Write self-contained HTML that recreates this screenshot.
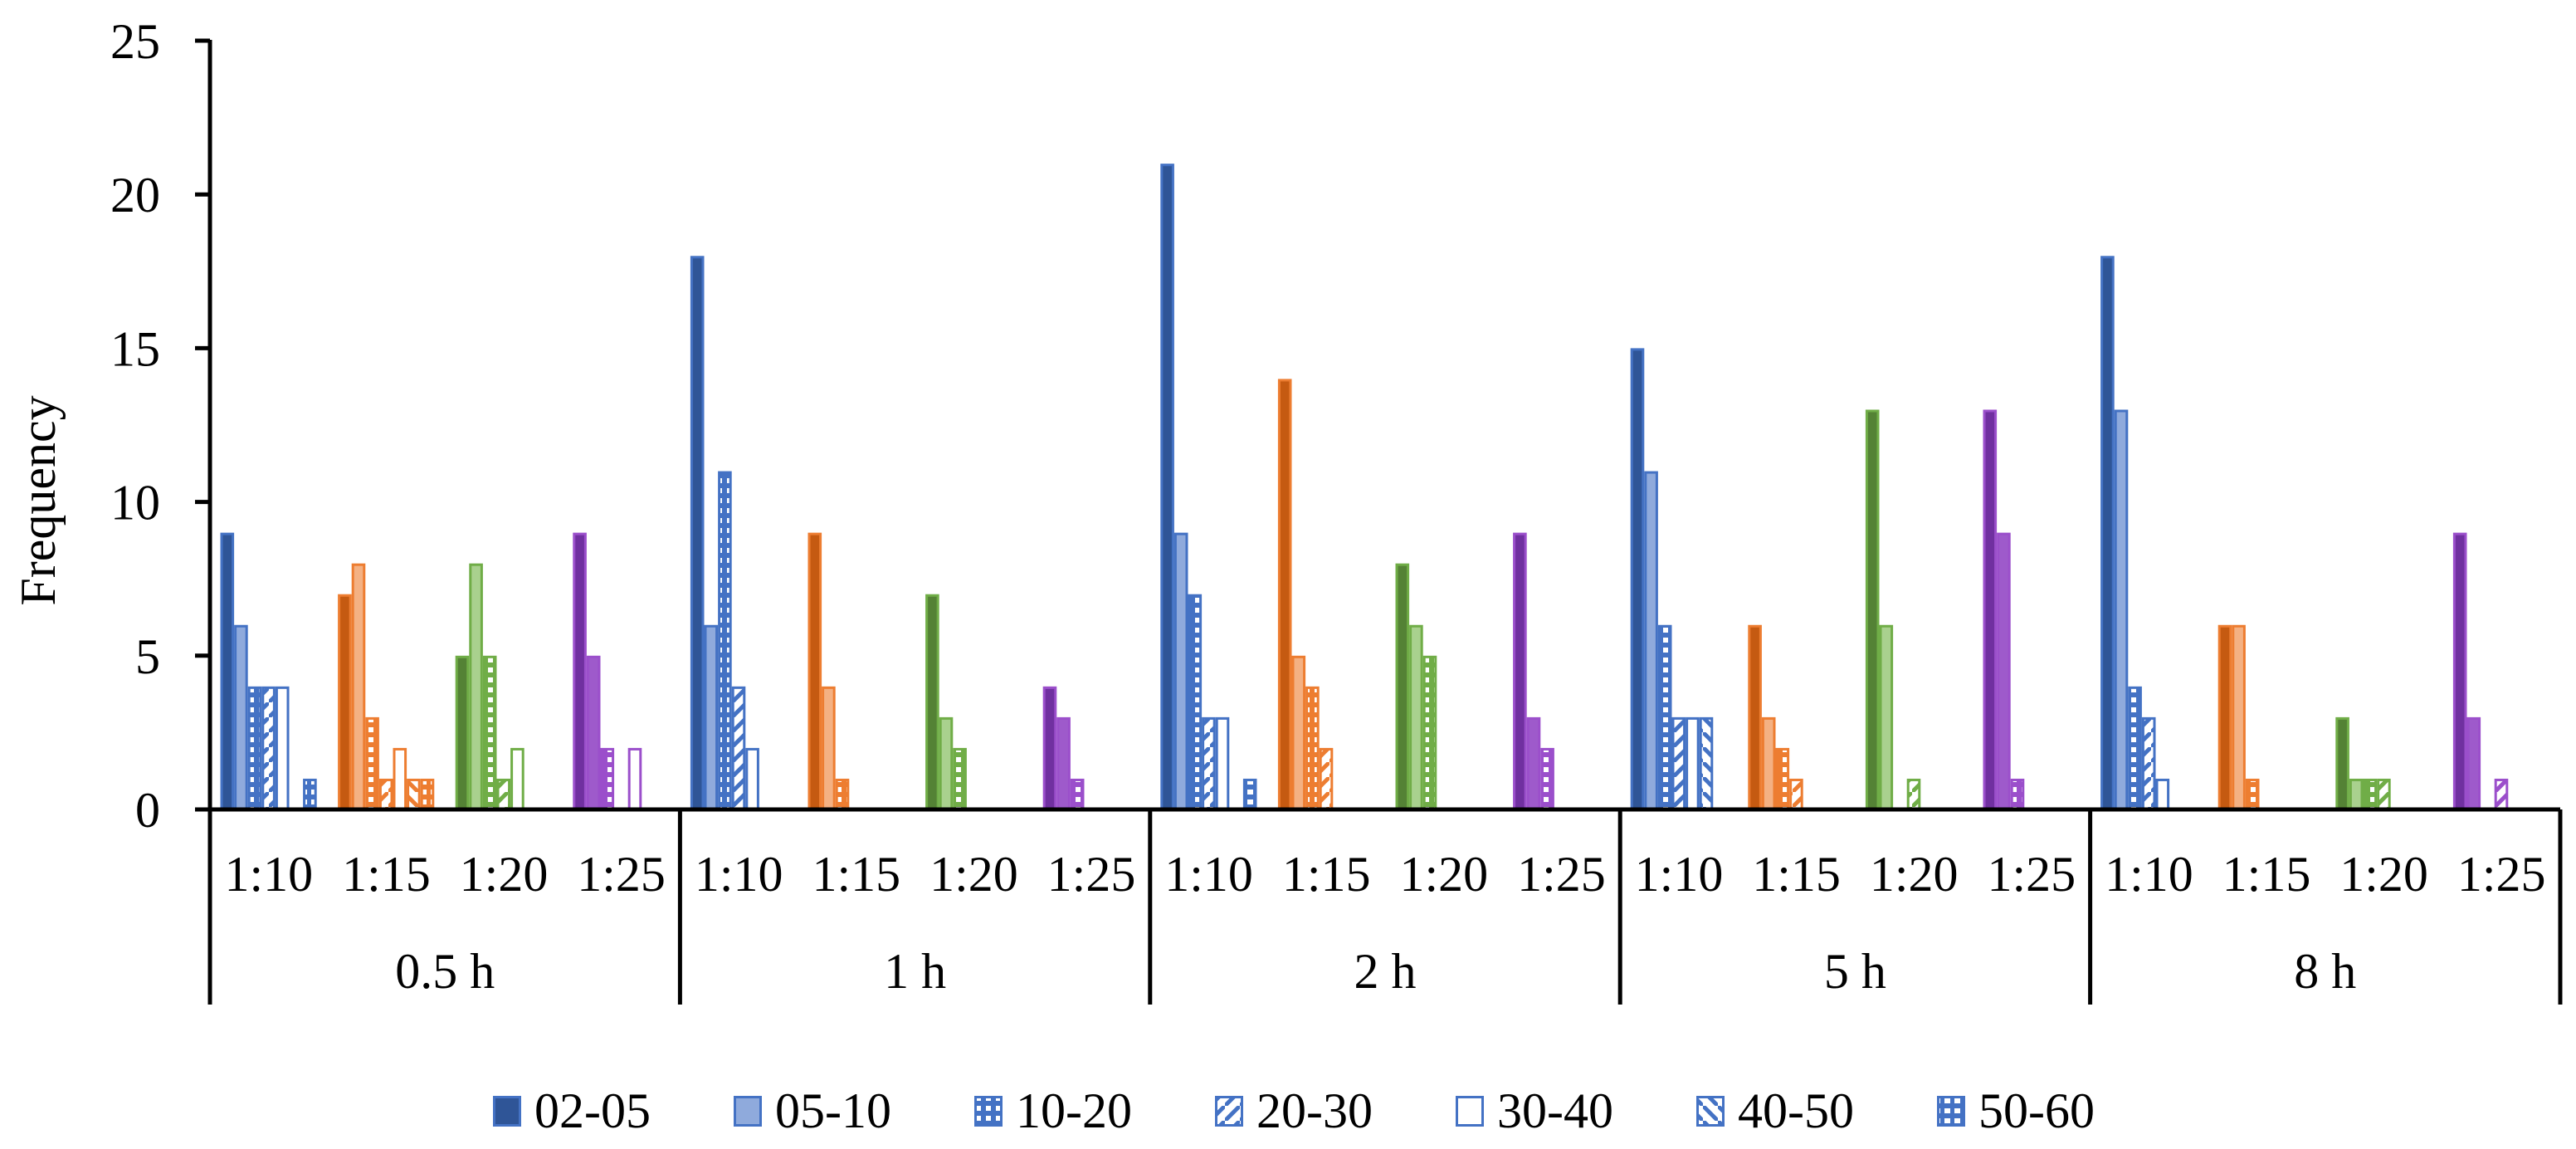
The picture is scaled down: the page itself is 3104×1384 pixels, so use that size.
<!DOCTYPE html>
<html><head><meta charset="utf-8"><style>
body{margin:0;background:#fff}
svg{display:block;font-family:"Liberation Serif",serif}
</style></head><body>
<svg id="chart" width="3104" height="1384" viewBox="0 0 3104 1384" xmlns="http://www.w3.org/2000/svg">
<defs id="defs"></defs>
<g id="bars"></g>
<g id="axes"></g>
<g id="legend"></g>
<text x="0" y="0" font-size="60" text-anchor="middle" transform="translate(66,603) rotate(-90)">Frequency</text>
</svg>
<script>
const bins = ["02-05","05-10","10-20","20-30","30-40","40-50","50-60"];
const ratios = ["1:10","1:15","1:20","1:25"];
const times = ["0.5 h","1 h","2 h","5 h","8 h"];
const yTicks = [0,5,10,15,20,25];
// values[time][ratio] = counts for the 7 bins
const v05 = [[9,6,4,4,4,0,1],[7,8,3,1,2,1,1],[5,8,5,1,2,0,0],[9,5,2,0,2,0,0]];
const v1  = [[18,6,11,4,2,0,0],[9,4,1,0,0,0,0],[7,3,2,0,0,0,0],[4,3,1,0,0,0,0]];
const v2  = [[21,9,7,3,3,0,1],[14,5,4,2,0,0,0],[8,6,5,0,0,0,0],[9,3,2,0,0,0,0]];
const v5  = [[15,11,6,3,3,3,0],[6,3,2,1,0,0,0],[13,6,0,1,0,0,0],[13,9,1,0,0,0,0]];
const v8  = [[18,13,4,3,1,0,0],[6,6,1,0,0,0,0],[3,1,1,1,0,0,0],[9,3,0,1,0,0,0]];
const values = [v05,v1,v2,v5,v8];

const NS="http://www.w3.org/2000/svg";
const X0=253, CW=141.6, Y0=975, Y25=49, BW=16.6, PAD=12.5;
const y = val => Y0 - (Y0-Y25)*val/25;
const catX = (t,r) => X0 + (t*4+r)*CW;
const barX = (t,r,b) => catX(t,r) + PAD + b*BW;

const pal=[
 {dark:"#2F5597",light:"#8FAADC",main:"#4472C4"},
 {dark:"#C55A11",light:"#F4B183",main:"#ED7D31"},
 {dark:"#548235",light:"#A9D18E",main:"#70AD47"},
 {dark:"#7030A0",light:"#9E5ACB",main:"#9B4FCB"}
];
function mk(tag,attrs,parent){const e=document.createElementNS(NS,tag);for(const k in attrs)e.setAttribute(k,attrs[k]);parent.appendChild(e);return e;}
const defs=document.getElementById('defs');
pal.forEach((c,i)=>{
  let p=mk('pattern',{id:'chk'+i,width:12,height:12,patternUnits:'userSpaceOnUse'},defs);
  mk('rect',{width:12,height:12,fill:c.main},p);mk('rect',{x:0,y:0,width:6,height:6,fill:'#fff'},p);
  p=mk('pattern',{id:'up'+i,width:18,height:18,patternUnits:'userSpaceOnUse'},defs);
  mk('rect',{width:18,height:18,fill:'#fff'},p);mk('path',{d:'M-2,20 L20,-2',stroke:c.main,'stroke-width':5},p);
  p=mk('pattern',{id:'dn'+i,width:18,height:18,patternUnits:'userSpaceOnUse'},defs);
  mk('rect',{width:18,height:18,fill:'#fff'},p);mk('path',{d:'M-2,-2 L20,20',stroke:c.main,'stroke-width':5},p);
  p=mk('pattern',{id:'hz'+i,width:12,height:12,patternUnits:'userSpaceOnUse'},defs);
  mk('rect',{width:12,height:12,fill:c.main},p);mk('rect',{x:3,y:3,width:7,height:6,fill:'#fff'},p);
});
function fillFor(b,i){const c=pal[i];return [c.dark,c.light,'url(#chk'+i+')','url(#up'+i+')','#fff','url(#dn'+i+')','url(#hz'+i+')'][b];}

const gb=document.getElementById('bars');
values.forEach((tv,t)=>tv.forEach((rv,r)=>rv.forEach((val,b)=>{
  if(!val) return;
  const e=mk('rect',{x:barX(t,r,b)+1.5,y:y(val)+1.5,width:BW-3,height:Y0-y(val)-1.5,fill:fillFor(b,r),stroke:pal[r].main,'stroke-width':3},gb);
  
  
})));

const ga=document.getElementById('axes');
mk('line',{x1:X0,y1:Y25-1,x2:X0,y2:1210,stroke:'#000','stroke-width':5},ga);
mk('line',{x1:X0,y1:Y0,x2:X0+20*CW,y2:Y0,stroke:'#000','stroke-width':5},ga);
yTicks.forEach(tk=>{
  mk('line',{x1:X0-18,y1:y(tk),x2:X0,y2:y(tk),stroke:'#000','stroke-width':5},ga);
  const tx=mk('text',{x:193,y:y(tk)+21,'font-size':60,'text-anchor':'end'},ga);tx.textContent=tk;
  
  
});
times.forEach((tm,t)=>{
  const xs=X0+(t+1)*4*CW;
  mk('line',{x1:xs,y1:Y0,x2:xs,y2:1210,stroke:'#000','stroke-width':5},ga);
  ratios.forEach((rt,r)=>{
    const tx=mk('text',{x:catX(t,r)+CW/2,y:1073,'font-size':60,'text-anchor':'middle'},ga);tx.textContent=rt;
    
    
  });
  const gt=mk('text',{x:X0+(t*4+2)*CW,y:1190,'font-size':60,'text-anchor':'middle'},ga);gt.textContent=tm;
  
  
});

const gl=document.getElementById('legend');
bins.forEach((bn,b)=>{
  const lx=594+b*290;
  const g=mk('g',{},gl);
  
  
  mk('rect',{x:lx+1.5,y:1321.5,width:31,height:34,fill:fillFor(b,0),stroke:pal[0].main,'stroke-width':3},g);
  const tx=mk('text',{x:lx+50,y:1358,'font-size':60},g);tx.textContent=bn;
});
</script>
</body></html>
